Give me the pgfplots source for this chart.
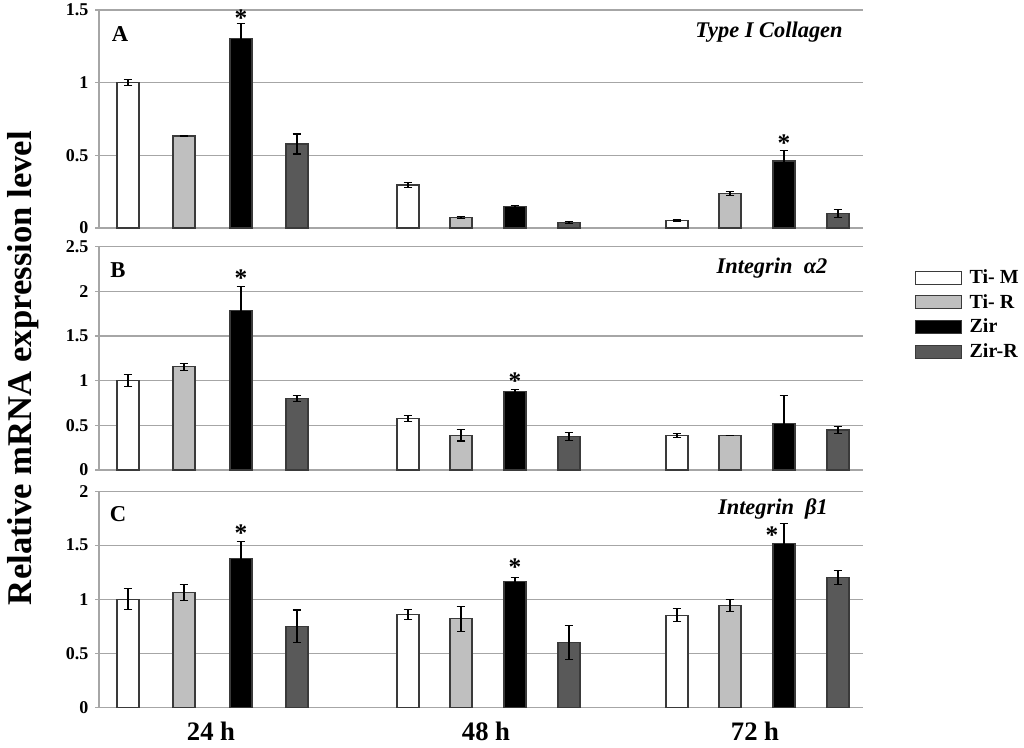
\documentclass[border=0pt]{standalone}
\usepackage{fontspec}
\setmainfont{Liberation Serif}
\usepackage{pgfplots}
\pgfplotsset{compat=1.18}
\definecolor{tiR}{HTML}{BFBFBF}
\definecolor{zirR}{HTML}{595959}
\definecolor{gridc}{HTML}{A6A6A6}
\definecolor{edge}{HTML}{3A3A3A}
\tikzset{starlbl/.style={font=\bfseries\fontsize{19}{19}\selectfont, inner sep=0pt}}
\pgfplotsset{
  panel/.style={
    scale only axis, width=573pt,
    xmin=99, xmax=863, enlargelimits=false,
    axis x line*=bottom, axis y line*=left,
    axis line style={gridc, line width=0.8pt},
    ymajorgrids, grid style={gridc, line width=0.8pt},
    tick align=outside, major tick length=3pt,
    ytick style={gridc, line width=0.8pt},
    xtick style={draw=none},
    tick label style={font=\bfseries\fontsize{13.5}{13.5}\selectfont, text=black},
    yticklabel style={xshift=-1.5pt},
    /pgf/number format/assume math mode=true,
    clip=false,
    every axis plot/.append style={ybar, bar width=22, bar shift=0pt, draw=edge, line width=0.8pt,
      error bars/y dir=both, error bars/y explicit,
      error bars/error bar style={black, line width=0.8pt},
      error bars/error mark options={rotate=90, black, mark size=3.2pt, line width=0.8pt}},
  },
}
\begin{document}
\begin{tikzpicture}
\path[use as bounding box] (0,0) rectangle (768pt,-560.25pt);
% Panel A
\begin{axis}[panel, at={(74.25pt,-171pt)}, anchor=south west, height=163.5pt,
  ymin=0, ymax=1.5, ytick={0,0.5,1,1.5}, xtick=\empty]
\addplot[fill=white] coordinates {(128,1.0) +- (0,0.02) (408,0.296) +- (0,0.015) (677,0.05) +- (0,0.005)};
\addplot[fill=tiR] coordinates {(184,0.633) +- (0,0.005) (461,0.071) +- (0,0.005) (730,0.236) +- (0,0.015)};
\addplot[fill=black] coordinates {(241,1.305) +- (0,0.105) (515,0.147) +- (0,0.005) (784,0.461) +- (0,0.074)};
\addplot[fill=zirR] coordinates {(297,0.578) +- (0,0.069) (569,0.039) +- (0,0.008) (838,0.101) +- (0,0.028)};
\node[starlbl] at (axis cs:241,1.445) {*};
\node[starlbl] at (axis cs:784,0.585) {*};
\end{axis}
% Panel B
\begin{axis}[panel, at={(74.25pt,-352.5pt)}, anchor=south west, height=167.5pt,
  ymin=0, ymax=2.5, ytick={0,0.5,1,1.5,2,2.5}, xtick=\empty,
  legend style={draw=none, fill=none, at={(1.068,0.91)}, anchor=north west, inner sep=0pt,
    font=\bfseries\fontsize{15}{15}\selectfont, row sep=2.6pt, cells={anchor=west},
    /tikz/every odd column/.append style={column sep=4pt}},
  legend cell align=left,
  legend image code/.code={\draw[#1, draw=edge, line width=0.8pt] (0pt,-4.8pt) rectangle (34pt,4.8pt);}]
\addplot[fill=white] coordinates {(128,1.0) +- (0,0.07) (408,0.575) +- (0,0.035) (677,0.388) +- (0,0.02)};
\addlegendentry{Ti- M}
\addplot[fill=tiR] coordinates {(184,1.157) +- (0,0.04) (461,0.388) +- (0,0.063) (730,0.388) +- (0,0.0)};
\addlegendentry{Ti- R}
\addplot[fill=black] coordinates {(241,1.79) +- (0,0.26) (515,0.881) +- (0,0.022) (784,0.523) +- (0,0.306)};
\addlegendentry{Zir}
\addplot[fill=zirR] coordinates {(297,0.803) +- (0,0.035) (569,0.377) +- (0,0.045) (838,0.448) +- (0,0.037)};
\addlegendentry{Zir-R}
\node[starlbl] at (axis cs:241,2.15) {*};
\node[starlbl] at (axis cs:515,0.99) {*};
\end{axis}
% Panel C
\begin{axis}[panel, at={(74.25pt,-530.5pt)}, anchor=south west, height=162.2pt,
  ymin=0, ymax=2, ytick={0,0.5,1,1.5,2},
  xtick={211,486,755}, xticklabels={24 h,48 h,72 h},
  xticklabel style={font=\bfseries\fontsize{20}{20}\selectfont, yshift=-4.5pt}]
\addplot[fill=white] coordinates {(128,1.0) +- (0,0.095) (408,0.857) +- (0,0.046) (677,0.852) +- (0,0.06)};
\addplot[fill=tiR] coordinates {(184,1.061) +- (0,0.074) (461,0.82) +- (0,0.115) (730,0.941) +- (0,0.053)};
\addplot[fill=black] coordinates {(241,1.376) +- (0,0.16) (515,1.163) +- (0,0.04) (784,1.518) +- (0,0.185)};
\addplot[fill=zirR] coordinates {(297,0.75) +- (0,0.15) (569,0.598) +- (0,0.155) (838,1.204) +- (0,0.064)};
\node[starlbl] at (axis cs:241,1.614) {*};
\node[starlbl] at (axis cs:515,1.30) {*};
\node[starlbl] at (axis cs:772,1.595) {*};
\end{axis}
% texts
\node[font=\bfseries\fontsize{17}{17}\selectfont] at (90pt,-25.5pt) {A};
\node[font=\bfseries\fontsize{17}{17}\selectfont] at (88.5pt,-202.5pt) {B};
\node[font=\bfseries\fontsize{17}{17}\selectfont] at (88.5pt,-385.5pt) {C};
\node[font=\bfseries\itshape\fontsize{16.8}{16.8}\selectfont] at (576.75pt,-24pt) {Type I Collagen};
\node[font=\bfseries\itshape\fontsize{16.8}{16.8}\selectfont] at (579pt,-201pt) {Integrin~ α2};
\node[font=\bfseries\itshape\fontsize{16.8}{16.8}\selectfont] at (579.75pt,-381.75pt) {Integrin~ β1};
\node[rotate=90, font=\bfseries\fontsize{26}{26}\selectfont] at (17pt,-276pt) {Relative mRNA expression level};
\end{tikzpicture}
\end{document}
